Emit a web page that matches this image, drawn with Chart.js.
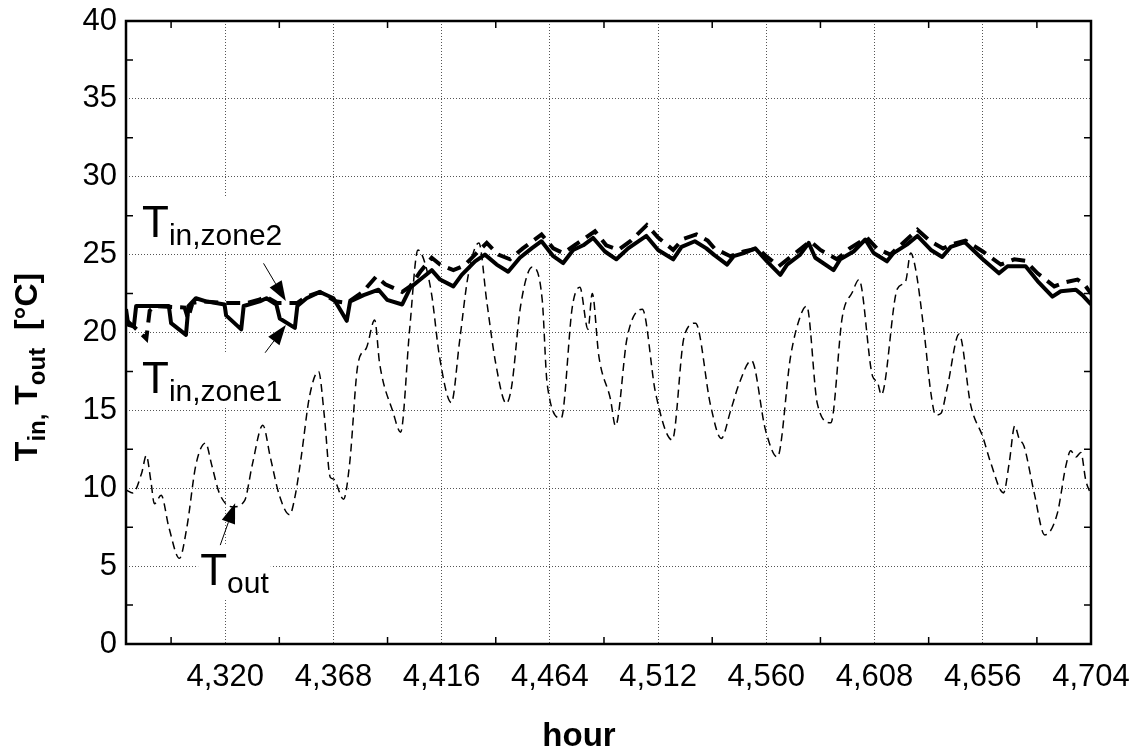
<!DOCTYPE html>
<html>
<head>
<meta charset="utf-8">
<script src="https://cdn.jsdelivr.net/npm/chart.js@4.4.1/dist/chart.umd.min.js"></script>
<style>
  html, body { margin: 0; padding: 0; background: #fff; }
  #wrap { width: 1136px; height: 751px; }
</style>
</head>
<body>
<div id="wrap"><canvas id="chart" width="1136" height="751"></canvas></div>
<script>
// outdoor temperature (thin dashed)
const outHours = [4276, 4279, 4283, 4285, 4287, 4288.6, 4291.6, 4295, 4299.7, 4303, 4307, 4311.3, 4314, 4317.5,
  4323.4, 4328.6, 4332, 4336.7, 4340, 4344, 4348.6, 4351, 4353.7, 4357.4, 4361.4, 4364, 4366.6, 4368, 4372.5,
  4375.2, 4378.9, 4382.6, 4386.3, 4388.5, 4394.4, 4397.8, 4401.8, 4405.5, 4408.5, 4411.6, 4415, 4420.3, 4424,
  4427.7, 4432.5, 4436, 4440, 4444.7, 4447, 4451, 4456.2, 4460.6, 4462.8, 4469, 4474, 4477.3, 4480.9, 4482.8,
  4485.7, 4490.9, 4493.1, 4498.3, 4505, 4510.9, 4518.3, 4523.5, 4528.6, 4535.3, 4540, 4544.2, 4547.9, 4553.4,
  4559.7, 4564.9, 4570.8, 4575.2, 4577.9, 4582.6, 4588.6, 4593.7, 4598.2, 4601.1, 4607.1, 4609.3, 4611, 4618.1,
  4621.8, 4624, 4626.3, 4630, 4633, 4635.1, 4637.4, 4640.3, 4645.5, 4650.7, 4656, 4659.6, 4665.2, 4667.7, 4670.2,
  4672.1, 4674.3, 4678.8, 4683.5, 4689.1, 4692.8, 4695, 4697.3, 4699.5, 4701.7, 4704];
const outTemps = [9.9, 9.7, 11.0, 12.1, 10.5, 9.0, 9.55, 7.5, 5.5, 7.5, 11.5, 12.9, 11.5, 9.65,
  8.8, 9.2, 11.5, 14.05, 12.0, 9.55, 8.3, 9.5, 12.0, 15.9, 17.5, 14.6, 10.7, 10.6, 9.3,
  11.6, 18.0, 19.0, 20.8, 18.0, 14.9, 13.6, 20.2, 25.3, 24.5, 22.4, 18.5, 15.5, 19.5,
  23.6, 25.75, 22.0, 18.0, 15.45, 16.5, 21.7, 24.2, 22.1, 16.7, 14.5, 21.7, 22.9, 20.2, 22.5,
  18.5, 15.7, 14.0, 19.7, 21.5, 16.1, 13.1, 19.7, 20.6, 15.3, 13.2, 15.0, 16.7, 18.2,
  13.7, 12.0, 18.5, 21.1, 21.7, 15.45, 14.2, 21.0, 22.6, 23.4, 17.2, 16.8, 16.0, 22.8,
  23.3, 25.1, 24.0, 20.0, 16.1, 14.7, 14.8, 16.5, 19.9, 15.3, 13.3, 11.6, 9.7, 11.6, 14.0,
  13.2, 12.7, 9.7, 7.0, 8.4, 11.4, 12.4, 12.0, 12.3, 10.5, 9.6];

// indoor temperature, zone 1 (thick solid)
const zone1Hours = [4276, 4277, 4279.5, 4280.5, 4295, 4296, 4302.6, 4303.7, 4307, 4311.5, 4319.7, 4320.4, 4327.1,
  4328.2, 4335.3, 4338.3, 4342.7, 4344.2, 4350.9, 4352, 4356.1, 4362, 4368, 4373.9, 4375.4, 4381.4, 4388,
  4391.8, 4398.5, 4402.2, 4406.5, 4411.6, 4415.3, 4421.2, 4424.9, 4430.8, 4435.2, 4440.4, 4445.5, 4450.7,
  4455.9, 4460.3, 4465.5, 4469.9, 4474.3, 4478.8, 4483.2, 4488.4, 4493.5, 4498.7, 4506.8, 4512, 4518.7,
  4522.4, 4528.3, 4533.4, 4536.7, 4542.6, 4545.5, 4550, 4555.1, 4560.3, 4566.2, 4569.2, 4575, 4578.8,
  4581.7, 4589.8, 4592.8, 4598.7, 4603.9, 4607.6, 4613.5, 4616.4, 4622.3, 4627, 4633, 4638, 4641.8, 4648,
  4656, 4663.2, 4667, 4675, 4680.3, 4686.9, 4690.6, 4697.3, 4700.2, 4704];
const zone1Temps = [21.5, 20.5, 20.4, 21.7, 21.7, 20.6, 19.85, 21.7, 22.2, 22.0, 21.8, 21.1, 20.2,
  21.7, 22.0, 22.2, 21.8, 20.9, 20.3, 21.7, 22.2, 22.6, 22.2, 20.75, 22.0, 22.4, 22.75,
  22.1, 21.8, 22.9, 23.4, 24.0, 23.4, 22.96, 23.7, 24.57, 25.0, 24.36, 23.9, 24.8,
  25.4, 25.86, 24.9, 24.46, 25.3, 25.6, 26.07, 25.2, 24.7, 25.4, 26.2, 25.3, 24.7,
  25.5, 25.86, 25.4, 25.0, 24.36, 24.9, 25.1, 25.4, 24.57, 23.7, 24.36, 25.0, 25.75,
  24.8, 24.0, 24.7, 25.2, 25.97, 25.1, 24.57, 25.1, 25.64, 26.2, 25.3, 24.85, 25.5, 25.8,
  24.7, 23.8, 24.25, 24.25, 23.3, 22.3, 22.65, 22.75, 22.4, 21.8];

// indoor temperature, zone 2 (thick dashed)
const zone2Hours = [4276, 4280, 4285, 4286.5, 4289, 4302, 4303.5, 4305.5, 4310, 4320, 4330, 4335, 4338, 4343,
  4347, 4352, 4356, 4362, 4369, 4374, 4381, 4387, 4391, 4398.5, 4402, 4406.5, 4411.6, 4415.3, 4421.2, 4426,
  4436, 4441.1, 4446.3, 4452, 4460.3, 4465.5, 4469.9, 4475, 4484, 4489, 4494.3, 4500, 4507, 4512, 4518.7,
  4523, 4529, 4534, 4537, 4544, 4550, 4556, 4560, 4565.5, 4572, 4579.5, 4584, 4591.3, 4597, 4604.6, 4609,
  4615, 4621, 4627, 4632.7, 4638.4, 4643, 4648.3, 4656, 4664, 4670, 4675, 4680.3, 4687.7, 4692, 4698, 4701, 4704];
const zone2Temps = [20.8, 20.3, 19.6, 21.4, 21.7, 21.6, 20.9, 21.9, 22.0, 21.9, 21.9, 22.1, 22.3, 21.9,
  21.9, 21.9, 22.3, 22.6, 22.0, 21.9, 22.6, 23.6, 23.1, 22.6, 22.96, 23.9, 24.8, 24.36, 24.0, 24.3,
  25.75, 25.0, 24.7, 25.4, 26.3, 25.4, 25.1, 25.6, 26.5, 25.6, 25.3, 25.9, 26.9, 26.1, 25.3,
  26.0, 26.3, 25.9, 25.4, 24.9, 25.2, 25.4, 24.9, 24.25, 25.0, 25.86, 25.3, 24.7, 25.4, 26.1, 25.4,
  25.0, 25.8, 26.6, 25.86, 25.4, 25.7, 25.9, 25.2, 24.36, 24.7, 24.6, 23.8, 22.96, 23.2, 23.4, 23.1, 22.5];

const xTickValues = [4320, 4368, 4416, 4464, 4512, 4560, 4608, 4656, 4704];
const xMinorTicks = [4296, 4344, 4392, 4440, 4488, 4536, 4584, 4632, 4680];
const yTickValues = [0, 5, 10, 15, 20, 25, 30, 35, 40];
const yMinorTicks = [2.5, 7.5, 12.5, 17.5, 22.5, 27.5, 32.5, 37.5];

const FONT = "'Liberation Sans', Arial, Helvetica, sans-serif";

function toPoints(xs, ys) {
  return xs.map((x, i) => ({ x: x, y: ys[i] }));
}

const decorations = {
  id: "decorations",
  labels: [
    { sub: "in,zone2", h: 4283.1, v: 26.13 },
    { sub: "in,zone1", h: 4283.1, v: 16.12 },
    { sub: "out", h: 4308.9, v: 3.79 },
  ],
  arrows: [
    { h0: 4337, v0: 24.44, h1: 4346.9, v1: 22.02 },
    { h0: 4337.7, v0: 18.7, h1: 4346.9, v1: 20.48 },
    { h0: 4317.8, v0: 6.35, h1: 4324.4, v1: 9.03 },
  ],
  labelBox(ctx, x, y, sub) {
    ctx.font = "44px " + FONT;
    const w1 = ctx.measureText("T").width;
    ctx.font = "30px " + FONT;
    const w2 = ctx.measureText(sub).width;
    return { x: x - 2, y: y - 40, w: w1 + w2 + 4, h: 54, w1: w1 };
  },
  beforeDatasetsDraw(chart) {
    const { ctx, scales } = chart;
    ctx.save();
    ctx.fillStyle = "#fff";
    for (const l of this.labels) {
      const b = this.labelBox(ctx, scales.x.getPixelForValue(l.h), scales.y.getPixelForValue(l.v), l.sub);
      ctx.fillRect(b.x, b.y, b.w, b.h);
    }
    ctx.restore();
  },
  afterDatasetsDraw(chart) {
    const { ctx, chartArea, scales } = chart;
    const { left, right, top, bottom } = chartArea;
    ctx.save();

    // minor ticks on all four sides
    ctx.strokeStyle = "#000";
    ctx.lineWidth = 1.5;
    ctx.beginPath();
    for (const h of xMinorTicks) {
      const px = scales.x.getPixelForValue(h);
      ctx.moveTo(px, bottom); ctx.lineTo(px, bottom - 7);
      ctx.moveTo(px, top); ctx.lineTo(px, top + 7);
    }
    for (const v of yMinorTicks) {
      const py = scales.y.getPixelForValue(v);
      ctx.moveTo(left, py); ctx.lineTo(left + 7, py);
      ctx.moveTo(right, py); ctx.lineTo(right - 7, py);
    }
    ctx.stroke();

    // frame
    ctx.lineWidth = 2.5;
    ctx.strokeRect(left, top, right - left, bottom - top);

    // curve labels
    ctx.fillStyle = "#000";
    ctx.textBaseline = "alphabetic";
    ctx.textAlign = "left";
    for (const l of this.labels) {
      const x = scales.x.getPixelForValue(l.h);
      const y = scales.y.getPixelForValue(l.v);
      const b = this.labelBox(ctx, x, y, l.sub);
      ctx.font = "44px " + FONT;
      ctx.fillText("T", x, y);
      ctx.font = "30px " + FONT;
      ctx.fillText(l.sub, x + b.w1, y + 8);
    }

    // arrows
    ctx.lineWidth = 1;
    for (const a of this.arrows) {
      const x0 = scales.x.getPixelForValue(a.h0), y0 = scales.y.getPixelForValue(a.v0);
      const x1 = scales.x.getPixelForValue(a.h1), y1 = scales.y.getPixelForValue(a.v1);
      const ang = Math.atan2(y1 - y0, x1 - x0);
      const len = 20, half = 7;
      const bx = x1 - len * Math.cos(ang), by = y1 - len * Math.sin(ang);
      ctx.beginPath();
      ctx.moveTo(x0, y0); ctx.lineTo(bx, by);
      ctx.stroke();
      ctx.beginPath();
      ctx.moveTo(x1, y1);
      ctx.lineTo(bx + half * Math.sin(ang), by - half * Math.cos(ang));
      ctx.lineTo(bx - half * Math.sin(ang), by + half * Math.cos(ang));
      ctx.closePath();
      ctx.fill();
    }

    // x axis title
    ctx.font = "bold 33px " + FONT;
    ctx.textAlign = "center";
    ctx.fillText("hour", 579, 746);

    // y axis title with subscripts
    const runs = [
      { t: "T", s: false }, { t: "in,", s: true }, { t: " T", s: false },
      { t: "out", s: true }, { t: "  [°C]", s: false },
    ];
    const mainF = "bold 32px " + FONT, subF = "bold 24px " + FONT;
    let total = 0;
    for (const r of runs) {
      ctx.font = r.s ? subF : mainF;
      r.w = ctx.measureText(r.t).width;
      total += r.w;
    }
    ctx.translate(37, 367);
    ctx.rotate(-Math.PI / 2);
    ctx.textAlign = "left";
    let cx = -total / 2;
    for (const r of runs) {
      ctx.font = r.s ? subF : mainF;
      ctx.fillText(r.t, cx, r.s ? 8 : 0);
      cx += r.w;
    }
    ctx.restore();
  },
};

new Chart(document.getElementById("chart"), {
  type: "scatter",
  data: {
    datasets: [
      {
        label: "T_out",
        data: toPoints(outHours, outTemps),
        showLine: true,
        borderColor: "#000",
        borderWidth: 1.5,
        borderDash: [8, 5],
        cubicInterpolationMode: "monotone",
        pointRadius: 0,
        clip: 0,
      },
      {
        label: "T_in,zone2",
        data: toPoints(zone2Hours, zone2Temps),
        showLine: true,
        borderColor: "#000",
        borderWidth: 4,
        borderDash: [14, 8],
        pointRadius: 0,
        clip: 0,
      },
      {
        label: "T_in,zone1",
        data: toPoints(zone1Hours, zone1Temps),
        showLine: true,
        borderColor: "#000",
        borderWidth: 4,
        borderJoinStyle: "round",
        pointRadius: 0,
        clip: 0,
      },
    ],
  },
  options: {
    responsive: false,
    animation: false,
    devicePixelRatio: 1,
    layout: { padding: { left: 0, top: 21, right: 45, bottom: 0 } },
    plugins: { legend: { display: false }, tooltip: { enabled: false } },
    scales: {
      x: {
        type: "linear",
        position: "bottom",
        min: 4276,
        max: 4704,
        afterBuildTicks: (scale) => { scale.ticks = xTickValues.map((v) => ({ value: v })); },
        afterFit: (scale) => {
          scale.height = 107;
          scale.paddingLeft = 0;
          scale.paddingRight = 0;
        },
        ticks: {
          autoSkip: false,
          maxRotation: 0,
          padding: 15,
          color: "#000",
          font: { family: FONT, size: 31 },
          callback: (v) => v.toLocaleString("en-US"),
        },
        grid: { color: "#555", lineWidth: 1, drawTicks: false },
        border: { display: false, dash: [1, 2] },
      },
      y: {
        type: "linear",
        min: 0,
        max: 40,
        afterBuildTicks: (scale) => { scale.ticks = yTickValues.map((v) => ({ value: v })); },
        afterFit: (scale) => {
          scale.width = 126;
          scale.paddingTop = 0;
          scale.paddingBottom = 0;
        },
        ticks: {
          padding: 9,
          color: "#000",
          font: { family: FONT, size: 31 },
        },
        grid: { color: "#555", lineWidth: 1, drawTicks: false },
        border: { display: false, dash: [1, 2] },
      },
    },
  },
  plugins: [decorations],
});
</script>
</body>
</html>
